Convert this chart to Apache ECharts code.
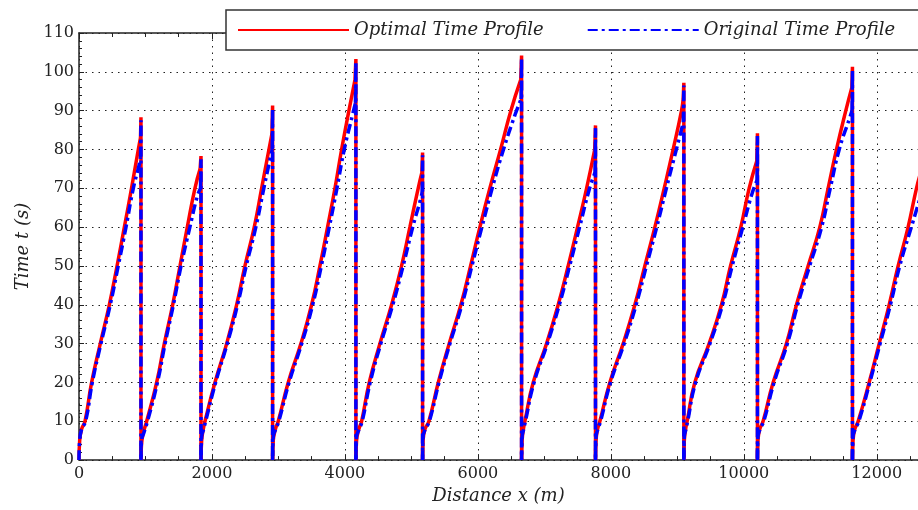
<!DOCTYPE html>
<html>
<head>
<meta charset="utf-8">
<script src="https://cdn.jsdelivr.net/npm/echarts@6/dist/echarts.min.js"></script>
<style>
  html, body { margin: 0; padding: 0; background: #fff; }
  #chart { width: 918px; height: 510px; }
</style>
</head>
<body>
<div id="chart"></div>
<script>
// station positions (m) and the time reached at each station (s)
var stations = [932, 1835, 2912, 4165, 5168, 6657, 7769, 9098, 10205, 11634];
var peakOptimal = [88.3, 78.3, 91.3, 103.3, 79.2, 104.2, 86.2, 97.2, 84.2, 101.3];
var peakOriginal = [87.5, 77.5, 90.5, 102.5, 78.5, 103.5, 85.5, 96.5, 83.5, 100.5];

// running curves between stations, [distance, time]
var optimalRuns = [
  [[0,0],[10,5],[40,8],[90,10],[190,20],[320,30],[456,40],[572,50],[682,60],[790,70],[892,80],[925,83]],
  [[932,0],[940,4],[967,7],[1018,10],[1168,20],[1283,30],[1409,40],[1519,50],[1629,60],[1744,70],[1822,75]],
  [[1835,0],[1845,5],[1870,8],[1895,10],[2045,20],[2221,30],[2371,40],[2496,50],[2636,60],[2747,70],[2857,80],[2902,84]],
  [[2912,0],[2922,5],[2955,8],[2997,10],[3147,20],[3338,30],[3499,40],[3624,50],[3739,60],[3850,70],[3950,80],[4060,90],[4152,98]],
  [[4165,0],[4175,5],[4210,8],[4251,10],[4366,20],[4526,30],[4702,40],[4852,50],[4977,60],[5102,70],[5157,74]],
  [[5168,0],[5175,5],[5205,8],[5263,10],[5404,20],[5568,30],[5744,40],[5890,50],[6030,60],[6180,70],[6341,80],[6496,90],[6645,98]],
  [[6657,0],[6665,5],[6685,8],[6707,10],[6832,20],[7033,30],[7208,40],[7358,50],[7499,60],[7635,70],[7757,80]],
  [[7769,0],[7777,5],[7800,8],[7835,10],[7985,20],[8185,30],[8361,40],[8511,50],[8662,60],[8802,70],[8937,80],[9063,90],[9088,93]],
  [[9098,0],[9105,5],[9125,8],[9148,10],[9263,20],[9478,30],[9664,40],[9800,50],[9955,60],[10080,70],[10195,77]],
  [[10205,0],[10212,5],[10240,8],[10290,10],[10441,20],[10641,30],[10792,40],[10967,50],[11143,60],[11268,70],[11394,80],[11534,90],[11625,96]],
  [[11634,0],[11642,5],[11670,8],[11720,10],[11885,20],[12036,30],[12186,40],[12321,50],[12471,60],[12597,70],[12660,74]]
];
var originalRuns = [
  [[0,0],[10,5],[40,8],[100,10],[200,20],[330,30],[470,40],[590,50],[707,60],[817,70],[905,76],[926,78]],
  [[932,0],[940,5],[975,7],[1030,10],[1180,20],[1295,30],[1420,40],[1535,50],[1668,60],[1780,68],[1828,70]],
  [[1835,0],[1845,6],[1875,8],[1905,10],[2055,20],[2230,30],[2385,40],[2515,50],[2660,60],[2780,70],[2880,78],[2906,80]],
  [[2912,0],[2922,6],[2960,8],[3005,10],[3160,20],[3350,30],[3515,40],[3645,50],[3765,60],[3880,70],[3990,80],[4115,89],[4158,92]],
  [[4165,0],[4175,6],[4215,8],[4260,10],[4380,20],[4540,30],[4720,40],[4875,50],[5020,60],[5135,67],[5162,69]],
  [[5168,0],[5175,6],[5210,8],[5270,10],[5415,20],[5580,30],[5760,40],[5910,50],[6060,60],[6215,70],[6385,80],[6560,89],[6650,93]],
  [[6657,0],[6665,6],[6690,8],[6715,10],[6845,20],[7045,30],[7225,40],[7380,50],[7530,60],[7680,70],[7762,74]],
  [[7769,0],[7777,6],[7805,8],[7845,10],[7995,20],[8200,30],[8380,40],[8535,50],[8690,60],[8835,70],[8985,80],[9090,87]],
  [[9098,0],[9105,6],[9130,8],[9155,10],[9275,20],[9490,30],[9680,40],[9825,50],[9985,60],[10130,69],[10199,72]],
  [[10205,0],[10212,6],[10245,8],[10300,10],[10455,20],[10655,30],[10810,40],[10990,50],[11170,60],[11300,70],[11435,80],[11590,88],[11628,90]],
  [[11634,0],[11642,6],[11675,8],[11730,10],[11895,20],[12050,30],[12205,40],[12345,50],[12520,60],[12660,68]]
];

var xMin = 0, xMax = 12620, xStep = 2000;
var yMin = 0, yMax = 110, yStep = 10;

// smooth part: the running curves, split by nulls
function buildRuns(runs){
  var out = [];
  for (var i = 0; i < runs.length; i++) {
    if (i > 0) out.push([null, null]);
    out = out.concat(runs[i]);
  }
  return out;
}
// straight part: last point -> station peak -> zero -> next run
function buildStops(runs, peaks){
  var out = [];
  for (var i = 0; i < stations.length; i++) {
    var last = runs[i][runs[i].length - 1];
    var next = runs[i + 1][0];
    if (i > 0) out.push([null, null]);
    out.push(last, [stations[i], peaks[i]], [stations[i], 0], next);
  }
  return out;
}

var serif = 'DejaVu Serif';
var ink = '#222';
var dotted = { color: '#222', width: 1, type: [1.5, 5] };
var redLine = { color: '#ff0000', width: 3.5, cap: 'butt' };
var blueLine = { color: '#0000ff', width: 3.5, type: [10, 4, 3, 4], cap: 'butt' };

var chart = echarts.init(document.getElementById('chart'), null, { renderer: 'canvas' });

function lineSeries(name, data, style, smooth, z){
  return {
    name: name, type: 'line', data: data,
    showSymbol: false, symbol: 'none', smooth: smooth, connectNulls: false,
    lineStyle: style, itemStyle: { color: style.color }, z: z
  };
}

var option = {
  animation: false,
  backgroundColor: '#fff',
  grid: { left: 79, right: 0, top: 33, bottom: 47 },
  legend: {
    left: 226, top: 10, width: 900,
    padding: [11, 60, 11, 11],
    itemWidth: 111, itemHeight: 17, itemGap: 43,
    backgroundColor: '#fff',
    borderColor: '#333', borderWidth: 1.5, borderRadius: 0,
    itemStyle: { opacity: 0 },
    textStyle: { fontFamily: serif, fontStyle: 'italic', fontSize: 18, color: ink },
    data: ['Optimal Time Profile', 'Original Time Profile']
  },
  xAxis: [{
    type: 'value', min: xMin, max: xMax, interval: xStep,
    name: 'Distance x (m)', nameLocation: 'middle', nameGap: 22,
    nameTextStyle: { fontFamily: serif, fontStyle: 'italic', fontSize: 18, color: ink },
    axisLine: { show: true, lineStyle: { color: ink, width: 1.5 } },
    axisTick: { show: true, inside: true, length: 6, lineStyle: { color: ink } },
    minorTick: { show: true, splitNumber: 4, length: 4, lineStyle: { color: ink } },
    axisLabel: { fontFamily: serif, fontSize: 16, color: ink, margin: 6, showMaxLabel: false,
      formatter: function (v) { return String(v); } },
    splitLine: { show: true, lineStyle: dotted }
  }, {
    type: 'value', position: 'top', min: xMin, max: xMax, interval: xStep,
    axisLine: { show: true, lineStyle: { color: ink, width: 1.5 } },
    axisTick: { show: true, inside: true, length: 6, lineStyle: { color: ink } },
    minorTick: { show: true, splitNumber: 4, length: 4, lineStyle: { color: ink } },
    axisLabel: { show: false },
    splitLine: { show: false }
  }],
  yAxis: {
    type: 'value', min: yMin, max: yMax, interval: yStep,
    name: 'Time t (s)', nameLocation: 'middle', nameGap: 46,
    nameTextStyle: { fontFamily: serif, fontStyle: 'italic', fontSize: 18, color: ink },
    axisLine: { show: true, lineStyle: { color: ink, width: 1.5 } },
    axisTick: { show: true, inside: true, length: 5, lineStyle: { color: ink } },
    minorTick: { show: true, splitNumber: 5, length: 3, lineStyle: { color: ink } },
    axisLabel: { fontFamily: serif, fontSize: 16, color: ink, margin: 5 },
    splitLine: { show: true, lineStyle: dotted }
  },
  series: [
    lineSeries('Optimal Time Profile', buildRuns(optimalRuns), redLine, 0.5, 2),
    lineSeries('Optimal Time Profile', buildStops(optimalRuns, peakOptimal), redLine, false, 2),
    lineSeries('Original Time Profile', buildRuns(originalRuns), blueLine, 0.5, 3),
    lineSeries('Original Time Profile', buildStops(originalRuns, peakOriginal), blueLine, false, 3)
  ]
};

chart.setOption(option);
</script>
</body>
</html>
